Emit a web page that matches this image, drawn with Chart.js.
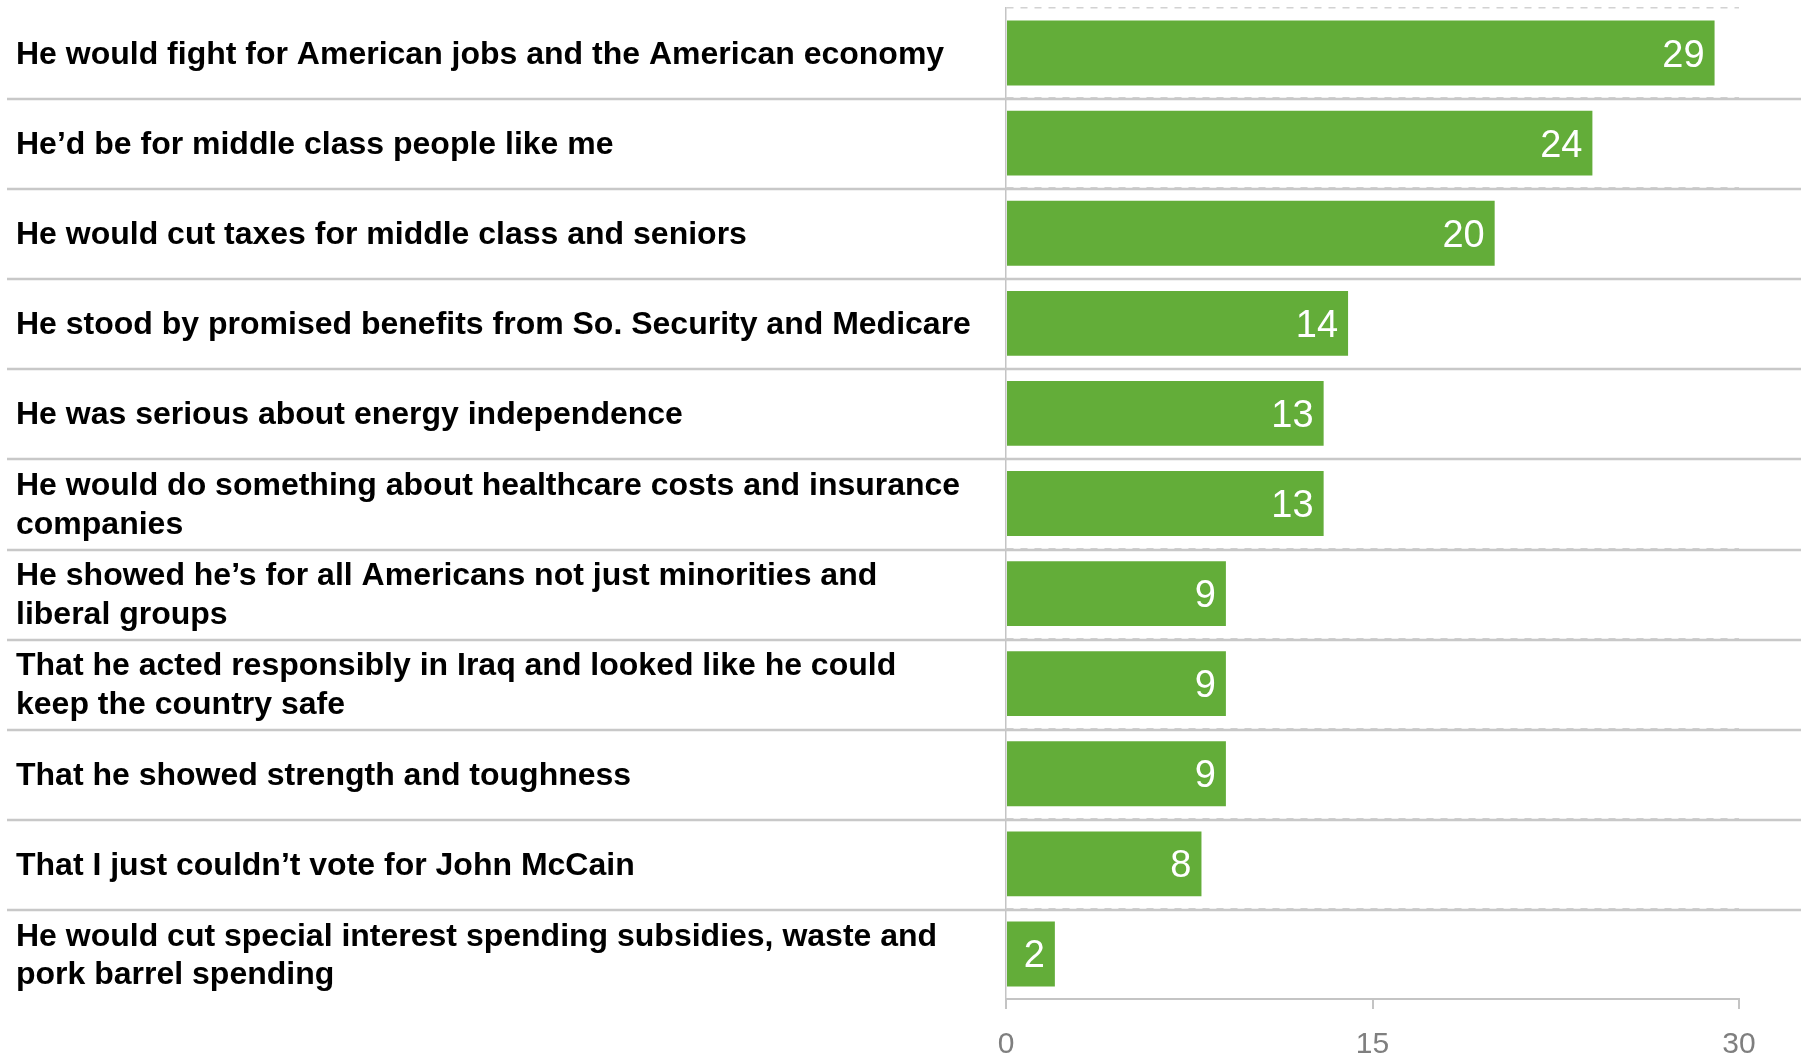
<!DOCTYPE html>
<html>
<head>
<meta charset="utf-8">
<script src="https://cdn.jsdelivr.net/npm/chart.js@4/dist/chart.umd.min.js"></script>
<style>
  html, body { margin: 0; padding: 0; background: #ffffff; }
  #wrap { width: 1801px; height: 1055px; }
</style>
</head>
<body>
<div id="wrap"><canvas id="c" width="1801" height="1055"></canvas></div>
<script>
const categories = [
  "He would fight for American jobs and the American economy",
  "He\u2019d be for middle class people like me",
  "He would cut taxes for middle class and seniors",
  "He stood by promised benefits from So. Security and Medicare",
  "He was serious about energy independence",
  ["He would do something about healthcare costs and insurance", "companies"],
  ["He showed he\u2019s for all Americans not just minorities and", "liberal groups"],
  ["That he acted responsibly in Iraq and looked like he could", "keep the country safe"],
  "That he showed strength and toughness",
  "That I just couldn\u2019t vote for John McCain",
  ["He would cut special interest spending subsidies, waste and", "pork barrel spending"]
];
const values = [29, 24, 20, 14, 13, 13, 9, 9, 9, 8, 2];
const xTicks = [0, 15, 30];

const FONT = "'Liberation Sans', Arial, Helvetica, sans-serif";

const separators = {
  id: 'separators',
  afterDraw(chart) {
    const y = chart.scales.y;
    const ctx = chart.ctx;
    ctx.save();
    ctx.strokeStyle = '#c8c8c8';
    ctx.lineWidth = 2.5;
    for (let i = 1; i < categories.length; i++) {
      const py = Math.round(y.getPixelForValue(i - 0.5)) + 1;
      ctx.beginPath();
      ctx.moveTo(7, py);
      ctx.lineTo(chart.width, py);
      ctx.stroke();
    }
    ctx.restore();
  }
};

const valueLabels = {
  id: 'valueLabels',
  afterDatasetsDraw(chart) {
    const ctx = chart.ctx;
    const meta = chart.getDatasetMeta(0);
    ctx.save();
    ctx.fillStyle = '#ffffff';
    ctx.font = '38px ' + FONT;
    ctx.textAlign = 'right';
    ctx.textBaseline = 'middle';
    meta.data.forEach((bar, i) => {
      ctx.fillText(String(values[i]), bar.x - 10, bar.y + 3);
    });
    ctx.restore();
  }
};

new Chart(document.getElementById('c'), {
  type: 'bar',
  data: {
    labels: categories,
    datasets: [{
      data: values,
      backgroundColor: '#63ad39',
      borderWidth: 0,
      categoryPercentage: 1,
      barPercentage: 0.72
    }]
  },
  options: {
    indexAxis: 'y',
    responsive: false,
    animation: false,
    events: [],
    layout: { padding: { top: 8, right: 62, left: 16, bottom: 0 } },
    plugins: { legend: { display: false }, tooltip: { enabled: false }, title: { display: false } },
    scales: {
      x: {
        type: 'linear',
        min: 0,
        max: 30,
        afterBuildTicks(scale) { scale.ticks = xTicks.map(v => ({ value: v })); },
        afterFit(scale) { scale.height = 56; scale.paddingLeft = 0; scale.paddingRight = 0; },
        grid: { drawOnChartArea: false, drawTicks: true, tickLength: 10, color: '#c4c4c4', lineWidth: 2 },
        border: { display: true, color: '#c4c4c4', width: 2 },
        ticks: { color: '#7f7f7f', font: { family: FONT, size: 30 }, padding: 18, maxRotation: 0 }
      },
      y: {
        type: 'category',
        afterFit(scale) { scale.width = 990; scale.paddingTop = 0; scale.paddingBottom = 0; },
        grid: { display: true, drawOnChartArea: true, drawTicks: false, tickLength: 0, color: '#d2d2d2', lineWidth: 1.5, offset: true },
        border: { display: true, color: '#c4c4c4', width: 1.5, dash: [7, 7] },
        ticks: {
          crossAlign: 'far',
          color: '#000000',
          padding: 0,
          labelOffset: 2,
          font: { family: FONT, size: 32, weight: 'bold', lineHeight: 1.2 },
          autoSkip: false
        }
      }
    }
  },
  plugins: [separators, valueLabels]
});
</script>
</body>
</html>
